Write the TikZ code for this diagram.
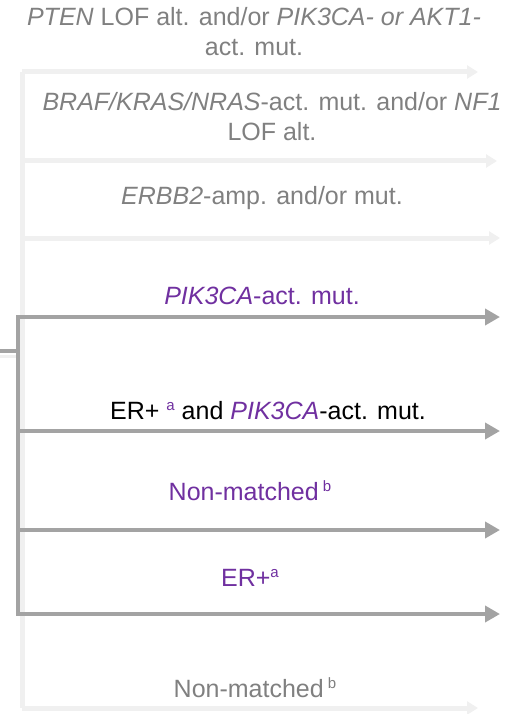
\documentclass[tikz,border=0pt]{standalone}
\usepackage{fontspec}
\setmainfont{Liberation Sans}
\usetikzlibrary{arrows.meta}
\definecolor{txtgray}{RGB}{128,128,128}
\definecolor{purp}{RGB}{112,48,160}
\definecolor{darkln}{RGB}{163,163,163}
\definecolor{faintln}{RGB}{240,240,240}
\tikzset{
  lbl/.style={inner sep=0pt, align=center, font=\fontsize{25}{30}\selectfont},
  darkarrow/.style={draw=darkln, line width=4pt, -{Triangle[length=15pt,width=16pt]}},
  faintarrow/.style={draw=faintln, line width=5pt, -{Triangle[length=11pt,width=13pt]}},
  darkline/.style={draw=darkln, line width=4pt},
  faintline/.style={draw=faintln, line width=5pt},
}
\newcommand{\supx}[1]{\raisebox{0.36em}{\fontsize{15}{15}\selectfont #1}}
\begin{document}
\begin{tikzpicture}[x=1pt,y=-1pt]
\useasboundingbox (0,0) rectangle (514,714);
% faint trunk and arrows
\coordinate (ft) at (22,72);
\coordinate (fb) at (22,708);
\coordinate (f1) at (478,72);
\coordinate (f2) at (497,161);
\coordinate (f2s) at (22,161);
\coordinate (f3) at (500,238);
\coordinate (f3s) at (22,238);
\coordinate (f4) at (478,708);
\draw[faintline] (ft) -- (fb);
\draw[faintarrow] (ft) -- (f1);
\draw[faintarrow] (f2s) -- (f2);
\draw[faintarrow] (f3s) -- (f3);
\draw[faintarrow] (fb) -- (f4);
% faint stub
\coordinate (fs0) at (0,356);
\coordinate (fs1) at (18,356);
\draw[draw=faintln, line width=3pt] (fs0) -- (fs1);
% dark trunk
\coordinate (dt) at (18,317);
\coordinate (db) at (18,614);
\coordinate (d2s) at (18,431);
\coordinate (d3s) at (18,530);
\coordinate (d1) at (500,317);
\coordinate (d2) at (500,431);
\coordinate (d3) at (500,530);
\coordinate (d4) at (500,614);
\coordinate (st0) at (0,351);
\coordinate (st1) at (18,351);
\draw[darkline] (st0) -- (st1);
\draw[darkline] ([yshift=-2pt]dt) -- ([yshift=2pt]db);
\draw[darkarrow] ([xshift=-2pt]dt) -- (d1);
\draw[darkarrow] (d2s) -- (d2);
\draw[darkarrow] (d3s) -- (d3);
\draw[darkarrow] ([xshift=-2pt]db) -- (d4);
% labels
\node[lbl, text=txtgray] (t1) at (254,32) {\textit{PTEN} LOF alt. and/or \textit{PIK3CA- or AKT1-}\\act. mut.};
\node[lbl, text=txtgray] (t2) at (272,117) {\textit{BRAF/KRAS/NRAS}-act. mut. and/or \textit{NF1}\\LOF alt.};
\node[lbl, text=txtgray] (t3) at (262,198) {\textit{ERBB2}-amp. and/or mut.};
\node[lbl, text=purp] (t4) at (262,296) {\textit{PIK3CA}-act. mut.};
\node[lbl, text=black] (t5) at (268,411) {ER+ \textcolor{purp}{\supx{a}} and \textcolor{purp}{\textit{PIK3CA}}-act. mut.};
\node[lbl, text=purp] (t6) at (250,491) {Non-matched\,\supx{b}};
\node[lbl, text=purp] (t7) at (250,578) {ER+\supx{a}};
\node[lbl, text=txtgray] (t8) at (255,688) {Non-matched\,\supx{b}};
\end{tikzpicture}
\end{document}
